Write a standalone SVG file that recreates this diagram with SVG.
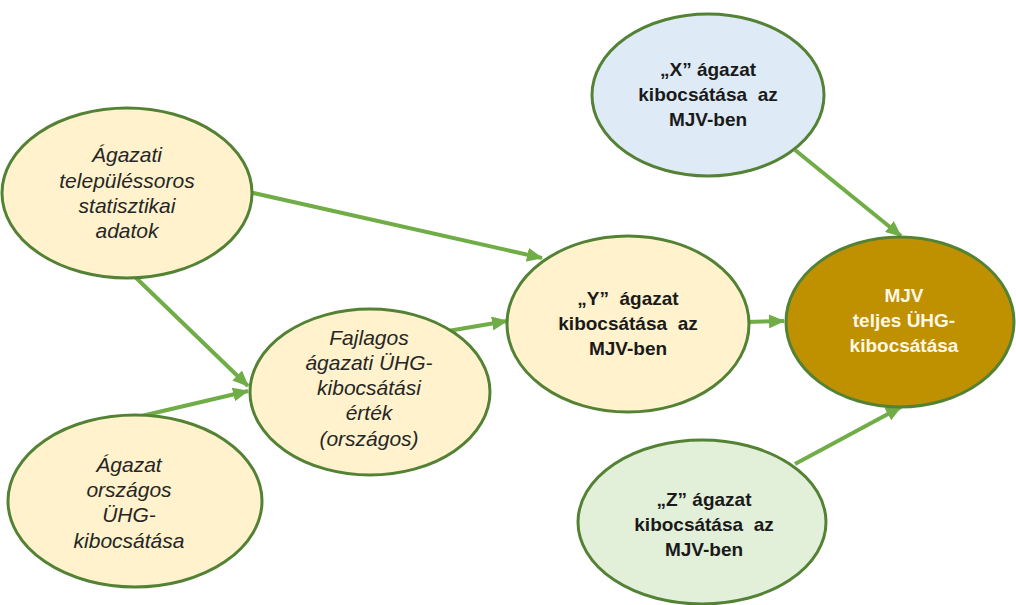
<svg xmlns="http://www.w3.org/2000/svg" width="1016" height="605" viewBox="0 0 1016 605">
<defs>
<marker id="ah" markerUnits="userSpaceOnUse" markerWidth="16" markerHeight="14" refX="15" refY="7" orient="auto">
<path d="M0,0 L16,7 L0,14 z" fill="#70AD47"/>
</marker>
<style>
.e{stroke:#548235;stroke-width:3}
.cream{fill:#FFF2CC}
.blue{fill:#DEEBF7}
.lgreen{fill:#E2F0D9}
.gold{fill:#BF9000}
.c{fill:none;stroke:#70AD47;stroke-width:4;marker-end:url(#ah)}
.it{font-family:"Liberation Sans",Arial,sans-serif;font-style:italic;font-size:21px;fill:#262626;text-anchor:middle}
.bd{font-family:"Liberation Sans",Arial,sans-serif;font-weight:bold;font-size:19px;fill:#1a1a1a;text-anchor:middle}
.wt{fill:#FFF8E6}
</style>
</defs>
<rect width="1016" height="605" fill="#ffffff"/>
<g id="connectors">
<line class="c" x1="240" y1="190" x2="542" y2="258"/>
<line class="c" x1="130" y1="272" x2="248" y2="386"/>
<line class="c" x1="133" y1="418" x2="248" y2="391"/>
<line class="c" x1="448" y1="331" x2="507" y2="321"/>
<line class="c" x1="745" y1="322" x2="784" y2="321"/>
<line class="c" x1="795" y1="150" x2="901" y2="236"/>
<line class="c" x1="795" y1="464" x2="901" y2="407"/>
</g>
<g id="n-agazati">
<ellipse class="e cream" cx="127" cy="193" rx="125" ry="85"/>
<text class="it" x="127" y="162">Ágazati</text>
<text class="it" x="127" y="188">településsoros</text>
<text class="it" x="127" y="213">statisztikai</text>
<text class="it" x="127" y="238">adatok</text>
</g>
<g id="n-fajlagos">
<ellipse class="e cream" cx="370" cy="392" rx="120" ry="83"/>
<text class="it" x="369" y="345">Fajlagos</text>
<text class="it" x="369" y="370">ágazati ÜHG-</text>
<text class="it" x="369" y="395">kibocsátási</text>
<text class="it" x="369" y="420">érték</text>
<text class="it" x="369" y="446">(országos)</text>
</g>
<g id="n-orszagos">
<ellipse class="e cream" cx="135" cy="501" rx="127" ry="86"/>
<text class="it" x="129" y="472">Ágazat</text>
<text class="it" x="129" y="497">országos</text>
<text class="it" x="129" y="522">ÜHG-</text>
<text class="it" x="129" y="548">kibocsátása</text>
</g>
<g id="n-y">
<ellipse class="e cream" cx="628" cy="324" rx="121" ry="88"/>
<text class="bd" x="628" y="305" xml:space="preserve">„Y”  ágazat</text>
<text class="bd" x="628" y="330" xml:space="preserve">kibocsátása  az</text>
<text class="bd" x="628" y="355">MJV-ben</text>
</g>
<g id="n-x">
<ellipse class="e blue" cx="708" cy="95" rx="116" ry="81"/>
<text class="bd" x="708" y="76">„X” ágazat</text>
<text class="bd" x="708" y="101" xml:space="preserve">kibocsátása  az</text>
<text class="bd" x="708" y="126">MJV-ben</text>
</g>
<g id="n-z">
<ellipse class="e lgreen" cx="702" cy="522" rx="124" ry="82"/>
<text class="bd" x="704" y="506">„Z” ágazat</text>
<text class="bd" x="704" y="531" xml:space="preserve">kibocsátása  az</text>
<text class="bd" x="704" y="556">MJV-ben</text>
</g>
<g id="n-mjv">
<ellipse class="e gold" cx="900" cy="322" rx="114" ry="85"/>
<text class="bd wt" x="904" y="302">MJV</text>
<text class="bd wt" x="904" y="327">teljes ÜHG-</text>
<text class="bd wt" x="904" y="352">kibocsátása</text>
</g>
</svg>
